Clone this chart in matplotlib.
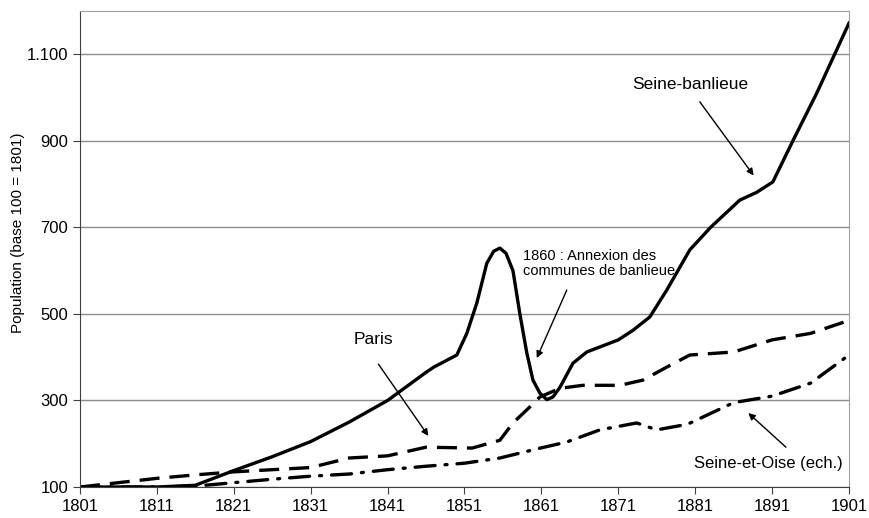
import matplotlib
matplotlib.use("Agg")
import matplotlib.pyplot as plt

plt.rcParams["font.family"] = ["Liberation Sans", "DejaVu Sans"]

# Seine-banlieue (solid)
banlieue_years = [1801, 1811, 1816, 1821, 1826, 1831, 1836, 1841, 1846, 1847, 1850, 1851.3,
                  1852.6, 1853.9, 1854.8, 1855.6, 1856.4, 1857.3, 1858.2, 1859.1, 1859.9,
                  1860.8, 1861.7, 1862.5, 1863.4, 1865.1, 1866.9, 1871, 1872.9, 1875.1,
                  1877.3, 1880.3, 1883, 1886.8, 1889, 1891.1, 1893.7, 1896.8, 1901]
banlieue_vals = [100, 100, 104, 138, 170, 205, 250, 300, 365, 377, 405, 455,
                 525, 617, 645, 652, 640, 600, 500, 410, 347,
                 317, 302, 308, 330, 386, 412, 440, 462, 493,
                 555, 648, 700, 763, 781, 805, 900, 1010, 1172]

# Paris (dashed)
paris_years = [1801, 1806, 1811, 1816, 1821, 1826, 1831, 1836, 1841, 1846, 1852, 1855.6,
               1857.3, 1859.5, 1860.8, 1863.4, 1866.4, 1871.2, 1874.2, 1877.3, 1880.3,
               1886, 1891, 1896, 1901]
paris_vals = [100, 110, 120, 128, 135, 140, 145, 167, 172, 192, 190, 208,
              248, 285, 308, 328, 335, 335, 347, 377, 405,
              412, 440, 455, 485]

# Seine-et-Oise (dash-dot)
oise_years = [1801, 1811, 1816, 1821, 1826, 1831, 1836, 1841, 1846, 1851, 1855.6, 1860.4,
              1864.3, 1868.6, 1873.4, 1876, 1880, 1886, 1891, 1896, 1901]
oise_vals = [100, 100, 102, 110, 118, 125, 130, 140, 148, 155, 167, 188,
             204, 232, 248, 232, 245, 295, 310, 340, 405]

x_ticks = list(range(1801, 1902, 10))
y_ticks = [100, 300, 500, 700, 900, 1100]
y_labels = ["100", "300", "500", "700", "900", "1.100"]

fig = plt.figure(figsize=(8.7, 5.18), dpi=100)
ax = fig.add_axes([80 / 870, 1 - 487 / 518, (849 - 80) / 870, (487 - 11) / 518])

ax.plot(banlieue_years, banlieue_vals, color="black", lw=2.4, solid_joinstyle="round")
ax.plot(paris_years, paris_vals, color="black", lw=2.4, dashes=(6, 3))
ax.plot(oise_years, oise_vals, color="black", lw=2.4, dashes=(6, 3, 0.6, 3), dash_capstyle="round")

ax.set_xlim(1801, 1901)
ax.set_ylim(100, 1200)
ax.set_xticks(x_ticks)
ax.set_yticks(y_ticks)
ax.set_yticklabels(y_labels)
ax.tick_params(labelsize=12, direction="out", length=5, color="#404040")
ax.grid(axis="y", color="#8c8c8c", lw=1)
ax.set_axisbelow(True)
for s in ["top", "right"]:
    ax.spines[s].set_color("#a0a0a0")
for s in ["left", "bottom"]:
    ax.spines[s].set_color("#404040")
fig.text(18 / 870, 1 - 233 / 518, "Population (base 100 = 1801)", fontsize=11,
         rotation=90, ha="center", va="center")

arrow = dict(arrowstyle="-|>", color="black", lw=1, mutation_scale=10, shrinkA=0, shrinkB=0)
ax.annotate("", xy=(1888.6, 820), xytext=(1881.6, 990), arrowprops=arrow)
ax.text(1880.3, 1030, "Seine-banlieue", fontsize=12.5, ha="center", va="center")

ax.annotate("", xy=(1860.4, 398), xytext=(1864.3, 555), arrowprops=arrow)
ax.text(1858.6, 617, "1860 : Annexion des\ncommunes de banlieue", fontsize=10.5,
        ha="left", va="center", linespacing=1.1)

ax.annotate("", xy=(1846.3, 218), xytext=(1839.8, 384), arrowprops=arrow)
ax.text(1839.2, 440, "Paris", fontsize=12.5, ha="center", va="center")

ax.annotate("", xy=(1887.9, 271), xytext=(1892.8, 192), arrowprops=arrow)
ax.text(1900.2, 155, "Seine-et-Oise (ech.)", fontsize=12, ha="right", va="center")

fig.savefig("out.png", dpi=100)
